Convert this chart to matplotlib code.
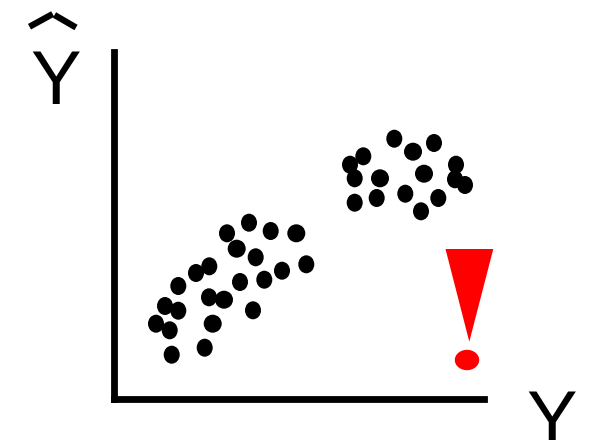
import matplotlib
matplotlib.use("Agg")
import matplotlib.pyplot as plt
from matplotlib.patches import Ellipse, Polygon

# values, in image pixels
round_x = [249, 227, 270.7, 255.7, 209.3, 196, 306.3, 282, 264.3, 240, 178.3, 209,
           165, 178.3, 253, 156, 169.7, 204.7, 171.7,
           394.3, 434, 363.3, 350, 456, 354.7, 455, 465, 354.7, 376.7, 405.3, 438.3, 421]
round_y = [222.7, 233.3, 231, 257.3, 266.3, 273, 264.3, 270.7, 279.7, 282, 286, 297.3,
           306, 310.7, 310.3, 323.7, 330.3, 347.7, 354.7,
           138.7, 143, 156.3, 164.7, 164.7, 178.3, 179.3, 185, 202.7, 198, 193.7, 198, 211.3]
wide_x = [296.3, 236.7, 224, 212.7, 413, 380, 424]
wide_y = [233.3, 248.7, 299.7, 323.7, 151.7, 178.3, 173.7]

mark_x = [445.5, 493.3, 469.3]
mark_y = [249, 249, 341.7]
mark_dot = (467, 360)

hat_left_x = [29.5, 52.7]
hat_left_y = [26.7, 14]
hat_right_x = [54.5, 76]
hat_right_y = [15, 27.5]

W, H = 594, 440
PX = 72 / 100

fig = plt.figure(figsize=(W / 100, H / 100), dpi=100)
left, right, top, bottom = 114.4, 484.5, 52, 398.5
ax = fig.add_axes([left / W, (H - bottom) / H, (right - left) / W, (bottom - top) / H])
ax.set_xlim(left, right)
ax.set_ylim(bottom, top)
ax.set_xticks([])
ax.set_yticks([])
ax.patch.set_visible(False)
for side in ["top", "right"]:
    ax.spines[side].set_visible(False)
for side in ["left", "bottom"]:
    ax.spines[side].set_linewidth(6.8 * PX)


def dot(x, y, w, h, color="black"):
    ax.add_patch(Ellipse((x, y), w, h, facecolor=color, edgecolor="none", clip_on=False))


for x, y in zip(round_x, round_y):
    dot(x, y, 16, 18)
for x, y in zip(wide_x, wide_y):
    dot(x, y, 18, 18)

# red exclamation mark
ax.add_patch(Polygon(list(zip(mark_x, mark_y)), closed=True, facecolor="#ff0000",
                     edgecolor="none", clip_on=False))
dot(mark_dot[0], mark_dot[1], 24.4, 20.4, color="#ff0000")

# axis labels
ax.text(56, 104, "Y", fontsize=54.5, family="Liberation Sans", ha="center", va="baseline", clip_on=False)
ax.text(551.5, 444, "Y", fontsize=54.5, family="Liberation Sans", ha="center", va="baseline", clip_on=False)
ax.plot(hat_left_x, hat_left_y, color="black", lw=6.3 * PX, solid_capstyle="butt", clip_on=False)
ax.plot(hat_right_x, hat_right_y, color="black", lw=6.3 * PX, solid_capstyle="butt", clip_on=False)
ax.set_xlim(left, right)
ax.set_ylim(bottom, top)

fig.savefig("out.png", dpi=100)
